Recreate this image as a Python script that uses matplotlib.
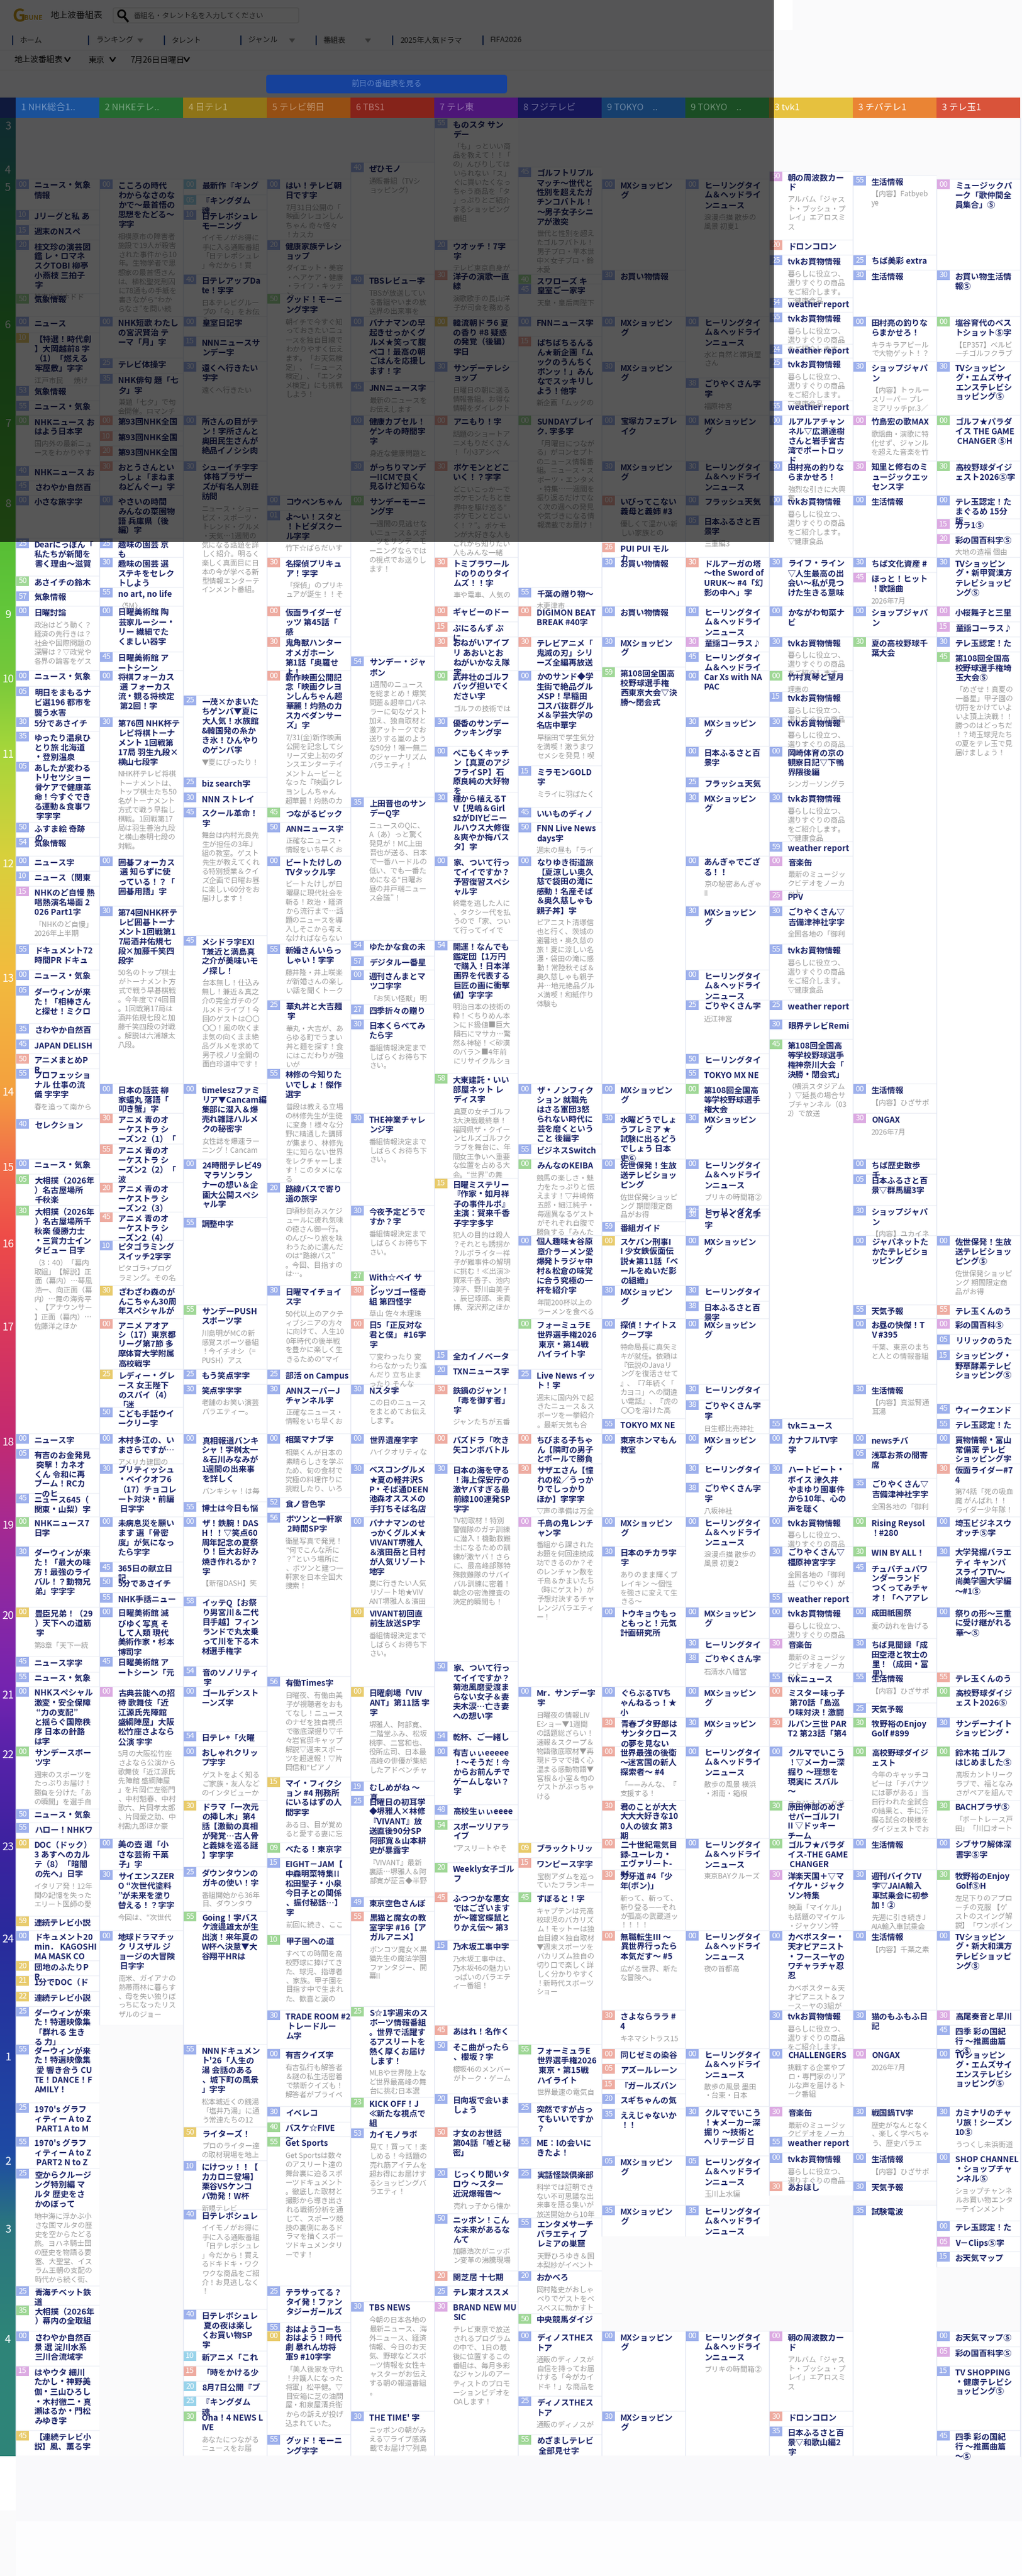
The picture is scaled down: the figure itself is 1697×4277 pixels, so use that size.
import matplotlib
matplotlib.use("Agg")
import matplotlib.pyplot as plt
from matplotlib.patches import Rectangle, FancyBboxPatch, Circle, Polygon
from matplotlib.colors import to_rgb
import numpy as np

plt.rcParams['font.family'] = ['Noto Sans CJK JP', 'DejaVu Sans']

W, H = 1697, 4277

# 番組表の時間軸 (hour -> {minute: row top})
ROW_TOPS = {
    3: {0: 196, 55: 196.5},
    4: {0: 269, 40: 270, 45: 277.5, 50: 284.5, 55: 291.5},
    5: {0: 298, 5: 324, 10: 349, 15: 374, 20: 399, 25: 424, 30: 449, 40: 456, 50: 488, 54: 495, 55: 519},
    6: {0: 526, 10: 553, 15: 558.5, 24: 572, 25: 595, 30: 601, 35: 621, 38: 628, 45: 634, 53: 641, 55: 666},
    7: {0: 690, 10: 716, 20: 741, 30: 766, 40: 773.5, 45: 798.5},
    8: {0: 823, 1: 847.5, 5: 856, 15: 862, 20: 886.5, 25: 894, 26: 901, 30: 925.5, 45: 951, 50: 957, 55: 975.5, 57: 982},
    9: {0: 1007, 15: 1033, 30: 1057.5, 45: 1082.5, 54: 1090, 59: 1108},
    10: {0: 1114, 5: 1140, 15: 1149, 25: 1155, 30: 1190.7, 35: 1215},
    11: {0: 1239.5, 5: 1265, 15: 1272, 25: 1290.6, 30: 1316, 45: 1340.5, 50: 1365.5, 54: 1391, 59: 1398},
    12: {0: 1421.5, 10: 1447, 15: 1472, 25: 1479, 30: 1504.7, 45: 1553.5, 54: 1561.5, 55: 1568, 57: 1588},
    13: {0: 1611, 5: 1636.7, 25: 1661, 27: 1668, 30: 1693, 35: 1700, 45: 1725.7, 50: 1750, 55: 1775, 58: 1783},
    14: {0: 1800, 30: 1849, 40: 1858, 55: 1900},
    15: {0: 1925, 5: 1950, 15: 1956.5, 20: 1964, 30: 2002, 38: 2008, 45: 2013, 55: 2022, 59: 2029},
    16: {0: 2052, 10: 2060, 27: 2111, 30: 2135, 38: 2161, 55: 2167},
    17: {0: 2190, 5: 2216, 15: 2242, 20: 2267, 25: 2273.6, 30: 2298.5, 38: 2325, 45: 2331, 50: 2337, 55: 2356},
    18: {0: 2381, 5: 2405.6, 30: 2430.5, 35: 2455, 38: 2462, 45: 2479.5, 52: 2487, 55: 2494, 56: 2512},
    19: {0: 2518.6, 30: 2568, 45: 2594, 50: 2619, 55: 2645, 58: 2651},
    20: {0: 2669, 30: 2721, 38: 2745, 45: 2751, 50: 2759, 54: 2767, 55: 2777, 56: 2784},
    21: {0: 2801, 25: 2828, 30: 2852, 54: 2875},
    22: {0: 2900, 15: 2951, 19: 2958, 25: 2982, 30: 2990, 48: 2997, 50: 3004, 54: 3022, 55: 3027},
    23: {0: 3053, 9: 3060, 15: 3085, 20: 3093, 25: 3100, 30: 3105, 45: 3142, 49: 3150, 55: 3174, 59: 3181.6},
    24: {0: 3206, 10: 3213, 15: 3222, 20: 3256, 21: 3281, 22: 3307, 25: 3331.5, 30: 3338, 45: 3363, 50: 3389, 55: 3395},
    25: {0: 3402, 5: 3427, 15: 3453, 20: 3477, 23: 3483, 25: 3491.6, 30: 3498, 35: 3502, 40: 3523.5, 50: 3532, 53: 3534, 55: 3548},
    26: {0: 3575, 5: 3580, 10: 3588, 20: 3600, 25: 3601, 30: 3622, 35: 3662, 40: 3669, 50: 3675.6, 55: 3683},
    27: {0: 3688, 5: 3714, 15: 3739, 20: 3771, 25: 3796, 30: 3821.5, 35: 3828, 40: 3835, 50: 3842},
    28: {0: 3871, 5: 3897, 10: 3903.5, 15: 3929, 20: 3954, 25: 3979, 30: 4004, 35: 4029, 45: 4036, 55: 4042.6},
    29: {0: 4078},
}

HOUR_LABELS = [3, 4, 5, 6, 7, 8, 9, 10, 11, 12, 13, 14, 15, 16, 17, 18, 19, 20, 21, 22, 23, 24, 1, 2, 3, 4]

CHANNELS = ["1 NHK総合1..", "2 NHKEテレ..", "4 日テレ1", "5 テレビ朝日", "6 TBS1", "7 テレ東",
            "8 フジテレビ", "9 TOKYO　..", "9 TOKYO　..", "3 tvk1", "3 チバテレ1", "3 テレ玉1"]

# time, genre, title, description
NHK = [
    ("5:00", "b", "ニュース・気象情報", ""),
    ("5:10", "b", "Jリーグと私 あ", ""),
    ("5:15", "b", "週末のNスペ", ""),
    ("5:20", "b", "桂文珍の演芸図鑑 レ・ロマネスクTOBI 柳亭小燕枝 三拍子字", "桂文珍がホドド"),
    ("5:50", "g", "気象情報", ""),
    ("6:00", "b", "ニュース", ""),
    ("6:10", "y", "【特選！時代劇】大岡越前8 字（1）「燃える牢屋敷」字字", "江戸市民 　 焼け"),
    ("6:53", "b", "気象情報", ""),
    ("6:55", "b", "ニュース・気象", ""),
    ("7:00", "g", "NHKニュース おはよう日本字", "国内外の最新ニュースをわかりやす"),
    ("7:40", "b", "NHKニュース お", ""),
    ("7:45", "b", "さわやか自然百", ""),
    ("8:00", "b", "小さな旅字字", ""),
    ("8:25", "b", "Dearにっぽん「私たちが新聞を書く理由～滋賀", ""),
    ("8:50", "g", "あさイチの鈴木", ""),
    ("8:57", "b", "気象情報", ""),
    ("9:00", "b", "日曜討論", "政治はどう動く？経済の先行きは？社会や国際問題の深層は？▽政党や各界の論客をゲス"),
    ("10:00", "b", "ニュース・気象", ""),
    ("10:05", "b", "明日をまもるナビ選196 都市を襲う水害", ""),
    ("10:30", "b", "5分であさイチ", ""),
    ("10:35", "b", "ゆったり温泉ひとり旅 北海道・登別温泉", ""),
    ("11:05", "b", "あしたが変わるトリセツショー骨ケアで健康革命！今すぐできる運動＆食事ワ 字字字", ""),
    ("11:50", "b", "ふすま絵 奇跡の", ""),
    ("11:54", "b", "気象情報", ""),
    ("12:00", "b", "ニュース字", ""),
    ("12:10", "b", "ニュース（関東", ""),
    ("12:15", "p", "NHKのど自慢 熱唱熱演名場面 2026 Part1字", "「NHKのど自慢」2026年上半期"),
    ("12:55", "b", "ドキュメント72時間PR ドキュ", ""),
    ("13:00", "b", "ニュース・気象", ""),
    ("13:05", "b", "ダーウィンが来た！「相棒さんと探せ！ミクロ", ""),
    ("13:35", "b", "さわやか自然百", ""),
    ("13:45", "b", "JAPAN DELISH", ""),
    ("13:50", "r", "アニメまとめPR", ""),
    ("13:55", "b", "プロフェッショナル 仕事の流儀 字字字", "春を追って南から"),
    ("14:40", "b", "セレクション", ""),
    ("15:00", "b", "ニュース・気象", ""),
    ("15:05", "g", "大相撲（2026年）名古屋場所 千秋楽", ""),
    ("15:30", "g", "大相撲（2026年）名古屋場所千秋楽 優勝力士・三賞力士インタビュー 日字",
     "（3：40）「幕内取組」【解説】正面（幕内）…琴風浩一、向正面（幕内）…舞の海秀平、【アナウンサー】正面（幕内）…佐藤洋之ほか"),
    ("18:00", "b", "ニュース字", ""),
    ("18:05", "b", "有吉のお金発見 突撃！カネオくん 令和に再ブーム！RCカーのヒ", ""),
    ("18:45", "b", "ニュース645（関東・山梨）字", ""),
    ("19:00", "g", "NHKニュース7 日字", ""),
    ("19:30", "b", "ダーウィンが来た！「最大の味方！最強のライバル！？動物兄弟」字字字", ""),
    ("20:00", "y", "豊臣兄弟！（29）天下への道筋 字", "第8章「天下一統"),
    ("20:45", "b", "ニュース字字", ""),
    ("20:55", "b", "ニュース・気象", ""),
    ("21:00", "b", "NHKスペシャル 激変・安全保障 “力の支配”と揺らぐ国際秩序 日本の針路は字", ""),
    ("22:00", "g", "サンデースポーツ字", "週末のスポーツをたっぷりお届け！勝負を分けた「あの瞬間」を選手自"),
    ("22:50", "b", "ニュース・気象", ""),
    ("22:55", "b", "ハロー！NHKワ", ""),
    ("23:00", "y", "DOC（ドック）3 あすへのカルテ（8）「暗闇の先へ」日字", "イタリア発！12年間の記憶を失ったエリート医師の愛"),
    ("23:59", "y", "連続テレビ小説", ""),
    ("24:00", "b", "ドキュメント20min． KAGOSHIMA MASK CO", ""),
    ("24:20", "y", "団地のふたりPR", ""),
    ("24:21", "y", "1分でDOC（ド", ""),
    ("24:22", "y", "連続テレビ小説", ""),
    ("24:25", "b", "ダーウィンが来た！特選映像集「群れる 生きる 力」", ""),
    ("24:55", "b", "ダーウィンが来た！特選映像集 愛 響き合う CUTE！DANCE！FAMILY！", ""),
    ("25:25", "b", "1970's グラフィティー A to Z PART1 A to M", ""),
    ("25:55", "b", "1970's グラフィティー A to Z PART2 N to Z", ""),
    ("26:25", "b", "空からクルージング特別編 マルタ 歴史をさかのぼって",
     "地中海に浮かぶ小さな国マルタの歴史を空からたどる旅。ヨハネ騎士団の歴史を物語る要塞、大聖堂、イスラム王朝の支配の時代から続く街、"),
    ("27:25", "b", "青海チベット鉄道", ""),
    ("27:35", "g", "大相撲（2026年）幕内の全取組", ""),
    ("28:00", "b", "さわやか自然百景 選 淀川水系 三川合流域字", ""),
    ("28:15", "p", "はやウタ 細川たかし・神野美伽・三山ひろし・木村徹二・真瀬はるか・門松みゆき字", ""),
    ("28:45", "y", "【連続テレビ小説】風、薫る字", ""),
]

ETV = [
    ("5:00", "b", "こころの時代 わからなさのなかで～最首悟の思想をたどる～字字",
     "相模原市の障害者施設で19人が殺害された事件から10年。生物学者で思想家の最首悟さんは、植松聖死刑囚に78通もの手紙を書きながら“わからなさ”を問い続"),
    ("6:00", "b", "NHK短歌 わたしの宮沢賢治 テーマ「月」字", ""),
    ("6:25", "b", "テレビ体操字", ""),
    ("6:35", "b", "NHK俳句 題「七夕」字", "兼題「七夕」で句会開催。ロマンチ"),
    ("7:00", "r", "第93回NHK全国", ""),
    ("7:10", "r", "第93回NHK全国", ""),
    ("7:20", "r", "第93回NHK全国", ""),
    ("7:30", "r", "おとうさんといっしょ「まねまねどんぐー」字", ""),
    ("8:00", "b", "やさいの時間 みんなの菜園物語 兵庫県（後編）字", ""),
    ("8:25", "b", "趣味の園芸 京も", "一期栽培は今"),
    ("8:30", "b", "趣味の園芸 選 ステキをセレクトしよう", ""),
    ("8:55", "b", "no art, no life", "〈5M〉"),
    ("9:00", "b", "日曜美術館 陶芸家ルーシー・リー 繊細でたくましい器字", ""),
    ("9:45", "b", "日曜美術館 アートシーン", ""),
    ("10:00", "b", "将棋フォーカス 選 フォーカス流・観る将検定 第2回！字", ""),
    ("10:30", "b", "第76回 NHK杯テレビ将棋トーナメント 1回戦第17局 羽生九段×横山七段字",
     "NHK杯テレビ将棋トーナメントは、トップ棋士たち50名がトーナメント方式で戦う早指し棋戦。1回戦第17局は羽生善治九段と横山泰明七段の対戦。"),
    ("12:00", "b", "囲碁フォーカス 選 知らずに使っている！？「囲碁用語」字", ""),
    ("12:30", "b", "第74回NHK杯テレビ囲碁トーナメント1回戦第17局酒井佑規七段×加藤千笑四段字",
     "50名のトップ棋士がトーナメント方式で戦う早碁棋戦。今年度で74回目。1回戦第17局は酒井佑規七段と加藤千笑四段の対戦。解説は六浦雄太八段。"),
    ("14:00", "b", "日本の話芸 柳家蝠丸 落語「叩き蟹」字", ""),
    ("14:30", "r", "アニメ 青のオーケストラ シーズン2（1）「", ""),
    ("14:55", "r", "アニメ 青のオーケストラ シーズン2（2）「波", ""),
    ("15:20", "r", "アニメ 青のオーケストラ シーズン2（3）", ""),
    ("15:45", "r", "アニメ 青のオーケストラ シーズン2（4）", ""),
    ("16:10", "b", "ピタゴラミングスイッチ2字字", "ピタゴラ+プログラミング。その名"),
    ("16:30", "y", "ざわざわ森のがんこちゃん30周年スペシャルが", ""),
    ("17:00", "r", "アニメ アオアシ（17）東京都リーグ第7節 多摩体育大学附属高校戦字", ""),
    ("17:25", "y", "レディー・グレース 女王陛下のスパイ（4）「迷", ""),
    ("17:50", "b", "こども手話ウイークリー字", ""),
    ("18:00", "b", "木村多江の、いまさらですが…", "アメリカ建国の"),
    ("18:30", "b", "ブリティッシュ・ベイクオフ6（17）チョコレート対決・前編 日字字", ""),
    ("19:00", "b", "未病息災を願います 選「骨密度」が気になったら字字", ""),
    ("19:45", "b", "365日の献立日記", ""),
    ("19:50", "b", "5分であさイチ", ""),
    ("19:55", "b", "NHK手話ニュー", ""),
    ("20:00", "b", "日曜美術館 滅びゆく写真 そして人類 現代美術作家・杉本博司字", ""),
    ("20:45", "b", "日曜美術館 アートシーン「元", ""),
    ("21:00", "p", "古典芸能への招待 歌舞伎「近江源氏先陣館 盛綱陣屋」大阪松竹座さよなら公演 字字",
     "5月の大阪松竹座さよなら公演から歌舞伎「近江源氏先陣館 盛綱陣屋」を片岡仁左衛門、中村魁春、中村歌六、片岡孝太郎、片岡愛之助、中村勘九郎ほか豪"),
    ("23:00", "b", "美の壺 選「小さな芸術 干菓子」字", ""),
    ("23:30", "b", "サイエンスZERO “次世代塗料”が未来を塗り替える！？字字", "今回は、“次世代"),
    ("24:00", "b", "地球ドラマチック リスザル ジョージの大冒険 日字字",
     "南米、ガイアナの熱帯雨林に暮らす、母を失い独りぼっちになったリスザルのジョー"),
    ("24:45", None, "", ""),
]

NTV = [
    ("5:00", "c", "最新作『キング", ""),
    ("5:05", "c", "『キングダム 魂", ""),
    ("5:10", "b", "日テレポシュレモーニング", "イイモノがお得に手に入る通販番組「日テレポシュレ」今だから！買"),
    ("5:40", "b", "日テレアップDate！字字", "日本テレビグループの「今」をお伝え"),
    ("6:00", "b", "皇室日記字", ""),
    ("6:15", "b", "NNNニュースサンデー字", ""),
    ("6:30", "b", "遠くへ行きたい字字", "遠くへ行きたい"),
    ("7:00", "b", "所さんの目がテン！字所さんと奥田民生さんが絶品イノシシ肉", ""),
    ("7:30", "b", "シューイチ字字 体格ブラザーズが有名人別荘訪問",
     "ニュース・ショービズ・スポーツ・トレンド・グルメ・天気…1週間の気になる話題を詳しく紹介。明るく楽しく真面目に日本の今が学べる新型情報エンターテインメント番組。"),
    ("10:25", "b", "一茂×かまいたちゲンバ▼夏に大人気！水族館&韓国発の糸かき氷！ひんやりのゲンバ字", "▼夏にぴったり！"),
    ("11:25", "b", "biz search字", ""),
    ("11:30", "b", "NNN ストレイ", ""),
    ("11:45", "b", "スクール革命！字", "舞台は内村光良先生が担任の3年J組の教室。ゲスト先生が教えてくれる特別授業＆クイズ企画で日曜お昼に楽しい60分をお届けします！"),
    ("12:45", "b", "メシドラ字EXIT兼近と満島真之介が美味いモノ探し！",
     "台本無し！仕込み無し！兼近＆真之介の完全ガチのグルメドライブ！今回のゲストは〇〇〇〇！風の吹くまま気の向くまま絶品グルメを求めて男子校ノリ全開の面白珍道中です！"),
    ("14:00", "b", "timeleszファミリア▼Cancam編集部に潜入＆爆売れ雑誌ハルメクの秘密字", "女性誌を爆速ラーニング！Cancam"),
    ("15:00", "b", "24時間テレビ49 マラソンランナーの想い＆企画大公開スペシャル字", ""),
    ("15:55", "b", "調整中字", ""),
    ("16:55", "g", "サンデーPUSHスポーツ字", "川島明がMCの新感覚スポーツ番組！今イチオシ（=PUSH）アス"),
    ("17:25", "b", "もう笑点字字", ""),
    ("17:30", "b", "笑点字字字", "老舗のお笑い演芸バラエティー。"),
    ("18:00", "b", "真相報道バンキシャ！字桝太一＆石川みなみが1週間の出来事を詳しく", "バンキシャ！は毎"),
    ("18:55", "b", "博士は今日も悩", ""),
    ("19:00", "b", "ザ！鉄腕！DASH！！▽笑点60周年記念の夏祭り！巨大お好み焼き作れるか？字", "【新宿DASH】笑"),
    ("19:58", "b", "イッテQ【お祭り男宮川＆二代目手越】フィンランドで丸太乗って川を下る木材選手権字", ""),
    ("20:54", "b", "音のソノリティ 字", ""),
    ("21:00", "b", "ゴールデンストーンズ字", ""),
    ("21:54", "b", "日テレ+「火曜", ""),
    ("22:00", "b", "おしゃれクリップ字字", "ゲストをよく知るご家族・友人などのインタビューか"),
    ("22:30", "y", "ドラマ「一次元の挿し木」第4話【激動の真相が発覚…古人骨と義妹を巡る謎】字字字", ""),
    ("23:25", "b", "ダウンタウンのガキの使い！字", "番組開始から36年目、ダウンタウ"),
    ("23:55", "g", "Going！字バスケ渡邊雄太が生出演！来年夏のW杯へ決意▼大谷翔平HRは", ""),
    ("24:55", "b", "NNNドキュメント'26「人生の湯 会話のある、城下町の風景」字字", "松本城近くの銭湯「塩井乃湯」に通う常連たちの12"),
    ("25:50", "y", "ライターズ！", "プロのライター達の取材現場を地上"),
    ("26:10", "b", "にけつッ！！【カカロニ登場】栗谷VSケンコバ勃発！W杯", "新規テレビ"),
    ("26:40", "b", "日テレポシュレ", "イイモノがお得に手に入る通販番組「日テレポシュレ」今だから！買えるドキドキ・ワクワクな商品をご紹介！お見逃しなく！"),
    ("27:40", "b", "日テレポシュレ 夏の夜は楽しくお買い物SP字", ""),
    ("28:10", "c", "新アニメ「これ", ""),
    ("28:15", "r", "「時をかける少", ""),
    ("28:20", "c", "8月7日公開『ブ", ""),
    ("28:25", "c", "『キングダム 魂", ""),
    ("28:30", "g", "Oha！4 NEWS LIVE", "あなたにつながるニュースをお届"),
]

EX = [
    ("5:00", "b", "はい！テレビ朝日です字", "7月31日公開の「映画クレヨンしんちゃん 奇々怪々！カスカ"),
    ("5:20", "b", "健康家族テレショップ", "ダイエット・美容・ヘアケア・健康・ライフ・キッチン"),
    ("5:50", "g", "グッド！モーニング字字", "朝イチで今すぐ知っておきたいニュースを独自目線でわかりやすく伝えます。「お天気検定」、「ニュース検定」、「エンタメ検定」にも挑戦しよう！"),
    ("8:00", "b", "コウペンちゃん", ""),
    ("8:01", "b", "よ～い！スタと！トビダスクール字字", "竹下☆ぱらだいす"),
    ("8:30", "r", "名探偵プリキュア！字字", "「探偵」のプリキュアが誕生！！そ"),
    ("9:00", "r", "仮面ライダーゼッツ 第45話「感", ""),
    ("9:30", "r", "鬼角獣ハンターオメガホーン 第1話「奥羅せよ！", ""),
    ("10:00", "r", "新作映画公開記念「映画クレヨンしんちゃん超華麗！灼熱のカスカベダンサーズ」字",
     "7/31(金)新作映画公開を記念してシリーズ史上初のダンスエンターテイメントムービーとなった『映画クレヨンしんちゃん 超華麗！灼熱のカ"),
    ("11:45", "g", "つながるピック", ""),
    ("11:50", "b", "ANNニュース字", "正確なニュース・情報をいち早くお"),
    ("12:00", "b", "ビートたけしのTVタックル字", "ビートたけしが日曜昼に現代社会を斬る！政治・経済から流行まで…話題のニュースを導入しそこから考えなければならない"),
    ("12:55", "b", "新婚さんいらっしゃい！字字", "藤井隆・井上咲楽が新婚さんの楽しい話を聞くトーク"),
    ("13:25", "b", "華丸丼と大吉麺 字", "華丸・大吉が、あらゆる町でうまい丼と麺を探す！食にはこだわりが強いが"),
    ("13:55", "b", "林修の今知りたいでしょ！傑作選字", "普段は教える立場の林修先生が生徒に変身！様々な分野に精通した講師が集まり、林修先生に知らない世界をレクチャーします！このタメになる"),
    ("15:20", "b", "路線バスで寄り道の旅字", "日頃秒刻みスケジュールに疲れ気味の徳さん御一行。のんび～り旅を味わうために選んだのは“路線バス”。今回、目指すのは…。"),
    ("16:30", "b", "日曜マイチョイス字", "50代以上のアクティブシニアの方々に向けて、人生100年時代の後半戦を豊かに楽しく生きるための“マイ"),
    ("17:25", "b", "部活 on Campus", ""),
    ("17:30", "b", "ANNスーパーJチャンネル字", "正確なニュース・情報をいち早くお"),
    ("18:00", "b", "相葉マナブ字", "相葉くんが日本の素晴らしさを学ぶため、旬の食材で究極の料理作りに挑戦したり、いろ"),
    ("18:52", "b", "食ノ音色字", ""),
    ("18:56", "b", "ポツンと一軒家 2時間SP字", "衛星写真で発見！“何でこんな所に？”という場所に、ポツンと建つ一軒家を日本全国大捜索！"),
    ("20:56", "b", "有働Times字", "日曜夜、有働由美子が視聴者をおもてなし！ニュースのナゼを独自視点で徹底深掘り▽千々岩官邸キャップ解説▽週末スポーツを超速報！▽片岡信和“ピアノ"),
    ("22:15", "y", "マイ・フィクション #4 刑務所にいるはずの人間字字", "ある日、目が覚めると愛する妻に忘"),
    ("23:09", "g", "べたる！東京字", ""),
    ("23:15", "b", "EIGHT－JAM【中森明菜特集!!松田聖子・小泉今日子との関係、振付秘話…】字", "前回に続き、ここ"),
    ("24:10", "g", "甲子園への道", "すべての時間を高校野球に捧げてきた、球児、指導者、家族。甲子園を目指す中で生まれた、歓喜と涙の"),
    ("24:30", "b", "TRADE ROOM #2 トレードルーム字", ""),
    ("25:00", "b", "有吉クイズ字", "有吉弘行も解答者＆謎の私生活密着で禁断クイズも！解答者がプライベ"),
    ("25:30", "b", "イベレコ", ""),
    ("25:40", "g", "バスケ☆FIVE～", ""),
    ("25:55", "g", "Get Sports", "Get Sportsは数々のアスリート達の舞台裏に迫るスポーツドキュメント。徹底した取材と撮影から導き出される戦術分析を通じて、スポーツ競技の裏側にあるドラマを描くスポーツドキュメンタリーです！"),
    ("27:25", "b", "テラサってる？タイ発！ファンタジーガールズ", ""),
    ("27:55", "b", "おはようコーち", ""),
    ("28:00", "y", "おはよう！時代劇 暴れん坊将軍9 #10字字", "「美人後家を守れ！弁護人になった将軍」松平健。▽目安箱に芝の油問屋・和泉屋清兵衛からの訴えが投げ込まれていた。"),
    ("28:55", "b", "グッド！モーニング字字", ""),
]

TBS = [
    ("4:40", "b", "ぜひモノ", "通販番組（TVショッピング）"),
    ("5:40", "b", "TBSレビュー字", "TBSが放送している番組やいまの放送界の出来事を"),
    ("6:00", "b", "バナナマンの早起きせっかくグルメ★笑って腹ペコ！最高の朝ごはんを応援します！字", ""),
    ("6:45", "b", "JNNニュース字", "最新のニュースをお伝えします"),
    ("7:00", "b", "健康カプセル！ゲンキの時間字字", "身近な健康問題と"),
    ("7:30", "b", "がっちりマンデー!!CMで良く見るけど知らな", ""),
    ("8:00", "g", "サンデーモーニング字", "一週間の見逃せないニュース＆スポーツをサンデーモーニングならではの視点でお送りします！"),
    ("9:54", "b", "サンデー・ジャポン", "1週間のニュースを総まとめ！爆笑問題＆超辛口パネラーに旬なゲスト加え、独自取材と激アットークでお送りする嵐のような90分！唯一無二のジャーナリズムバラエティ！"),
    ("11:35", "b", "上田晋也のサンデーQ字", "ニュースのQに、A（あ）っと驚く発見が！MC上田晋也が送る、日本で一番ハードルの低い、でも一番ためになる“日曜お昼の井戸端ニュース会議”！"),
    ("12:54", "b", "ゆたかな食の未", ""),
    ("12:57", "b", "デジタル一番星", ""),
    ("13:00", "b", "週刊さんまとマツコ字字", "「お笑い怪獣」明"),
    ("13:27", "b", "四季折々の贈り", ""),
    ("13:30", "b", "日本くらべてみたら字", "番組情報決定までしばらくお待ち下さい。"),
    ("14:30", "b", "THE神業チャレンジ字", "番組情報決定までしばらくお待ち下さい。"),
    ("15:30", "b", "今夜予定どうですか？字", "番組情報決定までしばらくお待ち下さい。"),
    ("16:27", "g", "With☆ベイ サン", ""),
    ("16:30", "r", "レッツゴー怪奇組 第四怪字", "草山 佐々木理珠"),
    ("17:00", "r", "日5「正反対な君と僕」 #16字字", "▽変わったり 変わらなかったり進んだり 立ち止まったり そんな"),
    ("17:30", "b", "Nスタ字", "この日のニュースをまとめてお伝えします。"),
    ("18:00", "b", "世界遺産字字", "ハイクオリティな"),
    ("18:30", "b", "ベスコングルメ★夏の軽井沢SP・そば通DEEN池森オススメの手打ちそば名店", ""),
    ("19:00", "b", "バナナマンのせっかくグルメ★VIVANT堺雅人＆濱田岳と日村が人気リゾート地字", "夏に行きたい人気リゾート地★VIVANT堺雅人＆濱田"),
    ("20:00", "y", "VIVANT初回直前生放送SP字", "番組情報決定までしばらくお待ち下さい。"),
    ("21:00", "y", "日曜劇場「VIVANT」第11話 字字", "堺雅人、阿部寛、二階堂ふみ、松坂桃李、二宮和也、役所広司、日本最高峰の俳優が集結したアドベンチャ"),
    ("22:19", "b", "むしめがね ～真", ""),
    ("22:25", "b", "日曜日の初耳学◆堺雅人×林修『VIVANT』放送直後90分SP阿部寛＆山本耕史が暴露字", "『VIVANT』最新裏話…堺雅人＆阿部寛が証言◆半野"),
    ("23:49", "b", "東京空色さんぽ", ""),
    ("23:55", "r", "黒猫と魔女の教室字字 #16【アガルアニメ】", "ポンコツ魔女×黒猫先生の魔法学園ファンタジー、開幕!!"),
    ("24:25", "g", "S☆1字週末のスポーツ情報番組。世界で活躍するアスリートを熱く厚くお届けします！", "MLBや世界陸上など世界最高峰の舞台に挑む日本選"),
    ("25:23", "g", "KICK OFF！J ≪新たな視点で組", ""),
    ("25:53", "b", "カイモノラボ", "見て！買って！楽しめる！今話題の売れ筋アイテムを超お得にお届けするショッピングバラエティ！"),
    ("27:30", "b", "TBS NEWS", "今朝の日本各地の最新ニュース、海外ニュース、経済情報、今日のお天気、野球などスポーツ情報を女性キャスターがお伝えする朝の報道番組。"),
    ("28:30", "b", "THE TIME' 字", "ニッポンの朝がみえる▽ライブ感満載でお届け▽列島"),
]

TX = [
    ("3:55", "b", "ものスタ サンデー", "「も」っといい商品を教えて！！「の」んびりしてはいられない「ス」ぐに買いたくなっちゃう商品を「タ」っぷりとご紹介するショッピング番組"),
    ("5:20", "b", "ウオッチ！7字字", "テレビ東京自身が"),
    ("5:30", "r", "洋子の演歌一直線", "演歌歌手の長山洋子が司会を務める"),
    ("6:00", "y", "韓流朝ドラ6 夏の香り #8 疑惑の発覚（後編）字日", ""),
    ("6:30", "b", "サンデーテレショップ", "日曜日の朝に送る情報番組。お得な情報をダイレクト"),
    ("7:00", "r", "アニもり！字", "話題のショートアニメもりだくさん！「小3アシベ"),
    ("7:30", "r", "ポケモンとどこいく！？字字", "どこいこっかーでポケモンたちと世界中を駆け巡る“ポケモンとどこいく！？”。ポケモンが大好きな人もこれから知りたい人もみんな一緒"),
    ("8:30", "r", "トミプラワールドのりのりタイムズ！！字", "車や電車、人気の"),
    ("9:00", "r", "ギャビーのドー", ""),
    ("9:15", "r", "ぷにるんず ぷに", ""),
    ("9:30", "r", "おねがいアイプリ あおいとおねがいかなえ隊字", ""),
    ("10:00", "g", "武井壮のゴルフバッグ担いでください字", "ゴルフの技術では"),
    ("10:30", "b", "優香のサンデークッキング字", ""),
    ("11:00", "b", "ぺこもくキッチン【真夏のアジフライSP】石原良純の大好物を", ""),
    ("11:30", "b", "種から植えるTV【児嶋＆Girls2がDIYビニールハウス大修復＆爽やか梅パスタ】字", ""),
    ("12:00", "b", "家、ついて行ってイイですか？予習復習スペシャル字", "終電を逃した人に、タクシー代を払うので「家、ついて行ってイイで"),
    ("12:54", "b", "開運！なんでも鑑定団【1万円で購入！日本洋画界を代表する巨匠の画に衝撃値】字字字", "明治日本の技術の粋！＜ちりめん本＞にド級値■巨大隕石にマサカ…驚然＆神秘！＜砂漠のバラ＞■4年前にリサイクルショ"),
    ("13:58", "g", "大東建託・いい部屋ネット レディス字", "真夏の女子ゴルフ3大決戦最終章！福岡県ザ・クイーンヒルズゴルフクラブを舞台に、年間女王争いへ重要な位置を占める大会。“世界”の舞"),
    ("15:15", "y", "日曜ミステリー『作家・如月祥子の事件ルポ』主演：賀来千香子字字多字", "犯人の目的は殺人？それとも誘拐か？ルポライター祥子が難事件の解明に挑む！≪出演≫賀来千香子、池内淳子、野川由美子、辰巳琢郎、東貴博、深沢邦之ほか"),
    ("17:15", "b", "全カイノベータ", ""),
    ("17:20", "b", "TXNニュース字", ""),
    ("17:30", "r", "鉄鍋のジャン！「毒を御す者」字", "ジャンたちが五番"),
    ("18:00", "r", "バズドラ「吹き矢コンボバトル", ""),
    ("18:30", "b", "日本の海を守る！海上保安庁の激ヤバすぎる最前線100連発SP字字", "TV初取材！特別警備隊のガチ訓練に潜入！機動救難士になるための訓練が激ヤバ！さらに、最高峰部隊特殊救難隊のサバイバル訓練に密着！執念の密漁捜査の決定的瞬間も！"),
    ("20:50", "b", "家、ついて行ってイイですか？菊池風磨愛渡まらない女子＆妻夫木涙…亡き妻への想い字", ""),
    ("21:54", "b", "乾杯、ご一緒し", ""),
    ("22:00", "b", "有吉ぃぃeeeee！～そうだ！今からお前んチでゲームしない？字", ""),
    ("22:48", "b", "高校生ぃぃeeee", ""),
    ("22:54", "g", "スポーツリアライブ", "“アスリートやそ"),
    ("23:20", "g", "Weekly女子ゴルフ", ""),
    ("23:45", "r", "ふつつかな悪女ではございますが～雛宮蝶鼠とりかえ伝～ 第3", ""),
    ("24:15", "b", "乃木坂工事中字", "乃木坂工事中は、乃木坂46の魅力いっぱいのバラエティー番組！"),
    ("24:45", "r", "あはれ！名作く", ""),
    ("24:50", "b", "そこ曲がったら、櫻坂？字", "櫻坂46のメンバーがトーク・ゲーム"),
    ("25:20", "b", "日向坂で会いましょう", ""),
    ("25:50", "r", "才女のお世話 第04話「嘘と秘密」", ""),
    ("26:20", "b", "じっくり聞いタロウ ～スター近況爆報告～", "売れっ子から懐か"),
    ("26:50", "b", "ニッポン！こんな未来があるなんて", "加藤浩次がニッポン変革の沸騰現場"),
    ("27:20", "r", "関芝居 十七期", ""),
    ("27:25", "b", "テレ東オススメ", ""),
    ("27:30", "p", "BRAND NEW MUSIC", "テレビ東京で放送されるプログラムの中で、1日の最後に位置するこの番組は、毎月多彩なジャンルのアーティストのプロモーションビデオをOAします！"),
]

CX = [
    ("4:45", "b", "ゴルフトリプルマッチ～世代と性別を超えたガチンコバトル！～男子女子シニアが激突", "世代と性別を超えたゴルフバトル！男子プロ・平本世中×女子プロ・鈴木愛"),
    ("5:40", "g", "スワローズ キッ", ""),
    ("5:45", "b", "皇室ご一家字", "天皇・皇后両陛下"),
    ("6:00", "b", "FNNニュース字", ""),
    ("6:15", "r", "ぱちぱちるんるん★新企画「ムックのうんちくポンッ！」みんなでスッキリしよう！他字", "新企画「ムックの"),
    ("7:00", "g", "SUNDAYブレイク. 字多字", "「月曜日につながる」がコンセプトのニュース情報番組。ニュース・スポーツ・エンタメ・特集…一週間を振り返るだけでなく次の週への発見や気づきになる情報満載でお届け！"),
    ("8:55", "b", "千葉の贈り物～", "木更津市"),
    ("9:00", "r", "DIGIMON BEATBREAK #40字", ""),
    ("9:30", "r", "テレビアニメ「鬼滅の刃」シリーズ全編再放送", ""),
    ("10:00", "b", "かのサンド◆学生街で絶品グルメSP！早稲田コスパ抜群グルメ＆学芸大学の名店中華字", "早稲田で学生気分を満喫！激うまワセメシを発見！喫"),
    ("11:15", "b", "ミラモンGOLD字", "ミライに羽ばたく"),
    ("11:45", "b", "いいものディノ", ""),
    ("11:50", "b", "FNN Live News days字", "週末の昼も「ライ"),
    ("12:00", "b", "なりゆき街道旅【夏涼しい奥久慈で袋田の滝に感動！名産そば＆奥久慈しゃも親子丼】字", "ピアニスト清塚信也と行く、茨城の避暑地・奥久慈の旅！夏に涼しい名瀑・袋田の滝に感動！常陸秋そば＆奥久慈しゃも親子丼…地元絶品グルメ満喫！和紙作り体験も"),
    ("14:00", "b", "ザ・ノンフィクション 就職先はさる軍団3怒られない時代に芸を磨くということ 後編字", ""),
    ("14:55", "b", "ビジネスSwitch", ""),
    ("15:00", "g", "みんなのKEIBA", "競馬の楽しさ・魅力をたっぷりと伝えます！▽井崎脩五郎・細江純子・毎週異なるゲストがそれぞれ自腹で勝負する「みんた"),
    ("16:00", "b", "個人趣味★谷原章介ラーメン愛爆発トラジャ中村＆松倉の味覚に合う究極の一杯を紹介字", "年間200杯以上のラーメンを食べる"),
    ("17:00", "g", "フォーミュラE 世界選手権2026 東京・第14戦ハイライト字", ""),
    ("17:25", "b", "Live News イット！字", "週末に国内外で起きたニュース＆スポーツを一挙紹介。最新天気も合"),
    ("18:00", "r", "ちびまる子ちゃん【隣町の男子とボールで勝負", ""),
    ("18:30", "r", "サザエさん【憧れの松／うっかりでしっかり ほか】字字字", "▽声の準備は万全"),
    ("19:00", "p", "千鳥の鬼レンチャン字", "番組から課されたお題を何回連続成功できるのか？そのレンチャン数を千鳥＆かまいたち（時にゲスト）が予想対決するチャレンジバラエティー！"),
    ("21:00", "b", "Mr．サンデー字字", "日曜夜の情報LIVEショー▼1週間の話題総ざらい！速報＆スクープ＆物語徹底取材▼再現ドラマで描く心温まる感動物語▼宮根＆小室＆旬のゲストがぶっちゃける"),
    ("23:09", "y", "ブラックトリッ", ""),
    ("23:15", "r", "ワンピース字字", "宝樹アダムを巡っていたフランキー"),
    ("23:45", "g", "すぽると！字", "キャプテンは元高校球児のバカリズム！モットーは独自目線×独自取材▼週末スポーツをバカリズム独自の切り口で楽しく詳しく分かりやすく！新時代スポーツショー"),
    ("24:55", "g", "フォーミュラE 世界選手権2026 東京・第15戦ハイライト", "世界最速の電気自"),
    ("25:25", "b", "突然ですが占ってもいいですか？", ""),
    ("25:55", "b", "ME：Iの会いにきたよ！", ""),
    ("26:25", "b", "実話怪談倶楽部", "科学では証明できない不可思議な出来事を語る集いが放送開始から10年"),
    ("26:55", "b", "エンタメサーチバラエティ プレミアの巣窟", "天野ひろゆき＆国本梨紗がイベント"),
    ("27:20", "b", "おかべろ", "岡村隆史がおしゃべりでゲストをベスベスに勃かすト"),
    ("27:50", "g", "中央競馬ダイジ", ""),
    ("28:00", "b", "ディノスTHEストア", "通販のディノスが自信を持ってお届けする「今がカイドキ！」な商品を"),
    ("28:25", "b", "ディノスTHEストア", "通販のディノスが"),
    ("28:55", "g", "めざましテレビ 全部見せ字", ""),
]

MX1 = [
    ("5:00", "b", "MXショッピング", ""),
    ("5:30", "b", "お買い物情報", ""),
    ("6:00", "b", "MXショッピング", ""),
    ("6:30", "b", "MXショッピング", ""),
    ("7:00", "b", "宝塚カフェブレイク", ""),
    ("7:30", "b", "MXショッピング", ""),
    ("8:00", "r", "いびってこない義母と義姉 #3", "優しくて温かい新しい家族との"),
    ("8:26", "r", "PUI PUI モルカ", ""),
    ("8:30", "b", "お買い物情報", ""),
    ("9:00", "b", "お買い物情報", ""),
    ("9:30", "b", "MXショッピング", ""),
    ("9:59", "g", "第108回全国高校野球選手権 西東京大会▽決勝～閉会式", ""),
    ("14:00", "b", "MXショッピング", ""),
    ("14:30", "b", "水曜どうでしょうプレミア ★試験に出るどうでしょう 日本史⑥", ""),
    ("15:00", "b", "佐世保発！生放送テレビショッピング", "佐世保発ショッピング 期間限定商品がお得"),
    ("15:59", "b", "番組ガイド", ""),
    ("16:00", "y", "スケバン刑事II 少女鉄仮面伝説★第11話「ベールをぬいだ影の組織」", ""),
    ("16:30", "b", "MXショッピング", ""),
    ("17:00", "b", "探偵！ナイトスクープ字", "特命局長に真矢ミキが就任。依頼は『伝説のJavaリングを復活させて』、『7年続く「カヨコ」への間違い電話』、『虎の〇〇を溶けた高"),
    ("17:55", "b", "TOKYO MX NE", ""),
    ("18:00", "b", "東京ホンマもん教室", ""),
    ("19:00", "b", "MXショッピング", ""),
    ("19:30", "b", "日本のチカラ字字", "ありのまま輝くブレイキン ～個性を強さに変えて生きる～"),
    ("20:00", "b", "トウキョウもっともっと！元気計画研究所", ""),
    ("21:00", "b", "ぐらぶるTVちゃんねるっ！★小", ""),
    ("21:30", "r", "青春ブタ野郎はサンタクロースの夢を見ない", ""),
    ("22:00", "r", "世界最強の後衛～迷宮国の新人探索者～ #4", "「——みんな、『支援する！"),
    ("22:30", "r", "君のことが大大大大大好きな100人の彼女 第3期", ""),
    ("23:00", "r", "二十世紀電気目録-ユーレカ・エヴァリート- #4", ""),
    ("23:30", "r", "刃牙道 #4「少年(ボン)」", "斬って、斬って、斬り登る——それが孤高の武蔵道ッ！！！！"),
    ("24:00", "r", "無職転生III ～異世界行ったら本気だす～ #5", "広がる世界、新たな冒険へ。"),
    ("24:30", "r", "さよならララ #4", "キネマシトラス15"),
    ("25:00", "r", "同じゼミの染谷", ""),
    ("25:05", "r", "アズールレーン", ""),
    ("25:15", "r", "『ガールズバン", ""),
    ("25:20", "b", "スギちゃんの気", ""),
    ("25:35", "b", "ええじゃないか！！", ""),
    ("26:05", "b", "MXショッピング", ""),
    ("26:35", "b", "MXショッピング", ""),
    ("27:05", None, "", ""),
    ("28:00", "b", "MXショッピング", ""),
    ("28:30", "b", "MXショッピング", ""),
]

HEAL = "ヒーリングタイム＆ヘッドラインニュース"
MX2 = [
    ("5:00", "b", HEAL, "浪漫点描 散歩の風景 初夏1"),
    ("6:00", "b", HEAL, "水と自然と雑貨屋さん"),
    ("6:38", "b", "ごりやくさん字字", "福原神宮"),
    ("7:00", "b", "MXショッピング", ""),
    ("7:30", "b", HEAL, ""),
    ("8:00", "b", "フラッシュ天気", ""),
    ("8:05", "b", "日本ふるさと百景字", "三重編3"),
    ("8:30", "r", "ドルアーガの塔～the Sword of URUK～ #4「幻影の中へ」字", ""),
    ("9:00", "b", HEAL, ""),
    ("9:30", "p", "童謡コーラス♪", ""),
    ("9:45", "b", HEAL, ""),
    ("10:00", "b", "Car Xs with NAPAC", ""),
    ("10:30", "b", "MXショッピング", ""),
    ("11:00", "b", "日本ふるさと百景字", ""),
    ("11:25", "b", "フラッシュ天気", ""),
    ("11:30", "b", "MXショッピング", ""),
    ("12:00", "b", "あんぎゃでござる！！", "京の秘密あんぎゃ!!"),
    ("12:30", "b", "MXショッピング", ""),
    ("13:00", "b", HEAL, ""),
    ("13:25", "b", "ごりやくさん字", "近江神宮"),
    ("13:50", "b", "ヒーリングタイ", ""),
    ("13:55", "b", "TOKYO MX NE", ""),
    ("14:00", "g", "第108回全国高等学校野球選手権大会", ""),
    ("14:30", "b", "MXショッピング", ""),
    ("15:00", "b", HEAL, "ブリキの時間箱②"),
    ("15:30", "b", "ヒーリングタイ", ""),
    ("15:38", "b", "ごりやくさん字字", ""),
    ("16:00", "b", "MXショッピング", ""),
    ("16:30", "b", "ヒーリングタイ", ""),
    ("16:38", "b", "日本ふるさと百景字", ""),
    ("17:00", "b", "MXショッピング", ""),
    ("17:30", "b", "ヒーリングタイ", ""),
    ("17:38", "b", "ごりやくさん字字", "日生都比売神社"),
    ("18:00", "b", "MXショッピング", ""),
    ("18:30", "b", "ヒーリングタイ", ""),
    ("18:38", "b", "ごりやくさん字字", "八坂神社"),
    ("19:00", "b", HEAL, "浪漫点描 散歩の風景 初夏2"),
    ("20:00", "b", "MXショッピング", ""),
    ("20:30", "b", "ヒーリングタイ", ""),
    ("20:38", "b", "ごりやくさん字", "石清水八幡宮"),
    ("21:00", "b", "MXショッピング", ""),
    ("21:30", "b", "MXショッピング", ""),
    ("22:00", "b", HEAL, "散歩の風景 横浜・湘南・箱根"),
    ("23:00", "b", HEAL, "東京BAYクルーズ"),
    ("24:00", "b", HEAL, "夜の首都高"),
    ("25:00", "b", HEAL, "散歩の風景 墨田・台東・日本"),
    ("25:30", "b", "クルマでいこう！★メーカー深掘り ～技術とヘリテージ 日", ""),
    ("26:05", "b", HEAL, "玉川上水編"),
    ("26:35", "b", HEAL, ""),
    ("27:05", None, "", ""),
    ("28:00", "b", HEAL, "ブリキの時間箱②"),
]

TVKSHOP = "暮らしに役立つ、選りすぐりの商品をご紹介します。▽健康食品"
TVK = [
    ("4:50", "p", "朝の周波数カード", "アルバム「ジャスト・プッシュ・プレイ」エアロスミス"),
    ("5:20", "r", "ドロンコロン", ""),
    ("5:25", "b", "tvkお買物情報", TVKSHOP),
    ("5:54", "b", "weather report", ""),
    ("5:55", "b", "tvkお買物情報", TVKSHOP),
    ("6:24", "b", "weather report", ""),
    ("6:25", "b", "tvkお買物情報", TVKSHOP),
    ("6:55", "b", "weather report", ""),
    ("7:00", "b", "ルアルアチャンネル▽広瀬達樹さんと岩手宮古湾でボートロッド", ""),
    ("7:30", "b", "田村亮の釣りならまかせろ！", "強烈な引きに大興奮"),
    ("8:00", "b", "tvkお買物情報", TVKSHOP),
    ("8:30", "b", "ライフ・ライン▽人生最高の出会い～私が見つけた生きる意味", ""),
    ("9:00", "b", "かながわ旬菜ナビ", ""),
    ("9:30", "b", "tvkお買物情報", TVKSHOP),
    ("10:00", "g", "竹村真琴と望月", "理恵の"),
    ("10:15", "b", "tvkお買物情報", TVKSHOP),
    ("10:30", "b", "tvkお買物情報", TVKSHOP),
    ("11:00", "b", "岡崎体育の京の観察日記▽下鴨界隈後編", "シンガーソングラ"),
    ("11:30", "b", "tvkお買物情報", TVKSHOP),
    ("11:59", "b", "weather report", ""),
    ("12:00", "p", "音楽缶", "最新のミュージックビデオをノーカット"),
    ("12:25", "p", "PPV", ""),
    ("12:30", "b", "ごりやくさん▽吉備津神社字字", "全国各地の「御利"),
    ("12:55", "b", "tvkお買物情報", TVKSHOP),
    ("13:25", "b", "weather report", ""),
    ("13:30", "b", "眼界テレビRemi", ""),
    ("13:45", "g", "第108回全国高等学校野球選手権神奈川大会「決勝・閉会式」", "（横浜スタジアム）▽延長の場合サブチャンネル（032）で放送"),
    ("17:55", "b", "tvkニュース", ""),
    ("18:00", "b", "カナフルTV字字", ""),
    ("18:30", "b", "ハートビート・ボイス 津久井やまゆり園事件から10年、心の声を聴く", ""),
    ("19:00", "b", "tvkお買物情報", TVKSHOP),
    ("19:30", "b", "ごりやくさん▽橿原神宮字字", "全国各地の「御利益（ごりやく）が"),
    ("19:55", "b", "weather report", ""),
    ("20:00", "b", "tvkお買物情報", TVKSHOP),
    ("20:30", "p", "音楽缶", "最新のミュージックビデオをノーカット"),
    ("20:55", "b", "tvkニュース", ""),
    ("21:00", "r", "ミスター味っ子 第70話「島巡り味対決！激闘", ""),
    ("21:30", "r", "ルパン三世 PART2 第23話「第4", ""),
    ("22:00", "b", "クルマでいこう！▽メーカー深掘り ～理想を現実に スバル～", "スタジオトーク全"),
    ("22:30", "g", "原田伸郎のめざせパーゴルフIII ▽ドッキーチーム", ""),
    ("23:00", "g", "ゴルフ★パラダイス-THE GAME CHANGER", ""),
    ("23:30", "p", "洋楽天国＋▽マイケル・ジャクソン特集", "映画「マイケル」も話題のマイケル・ジャクソン特"),
    ("24:00", "b", "カベポスター・天才ピアニスト・フースーヤのワチャラチャ忍忍", "カベポスター＆天才ピアニスト＆フースーヤの3組が"),
    ("24:30", "b", "tvkお買物情報", TVKSHOP),
    ("25:00", "b", "CHALLENGERS", "挑戦する企業やプロ・専門家のリアルな声を届けるトーク番組"),
    ("25:30", "p", "音楽缶", "最新のミュージックビデオをノーカット"),
    ("25:55", "b", "weather report", ""),
    ("26:00", "b", "tvkお買物情報", TVKSHOP),
    ("26:30", "r", "あおほし", ""),
    ("26:33", None, "", ""),
    ("28:00", "p", "朝の周波数カード", "アルバム「ジャスト・プッシュ・プレイ」エアロスミス"),
    ("28:30", "r", "ドロンコロン", ""),
    ("28:35", "b", "日本ふるさと百景▽和歌山編2字", ""),
]

CTC = [
    ("4:55", "b", "生活情報", "【内容】Fatbyebye"),
    ("5:25", "b", "ちば美彩 extra", ""),
    ("5:30", "b", "生活情報", ""),
    ("6:00", "b", "田村亮の釣りならまかせろ！", "キラキラアピールで大物ゲット！？"),
    ("6:30", "b", "ショップジャパン", "【内容】トゥルースリーパー プレミアリッチpr.3／"),
    ("7:00", "p", "竹島宏の歌MAX", "歌謡曲・演歌に特化せず、ジャンルを超えた音楽を竹"),
    ("7:30", "p", "知里と修右のミュージックエッセンス字", ""),
    ("8:00", "b", "生活情報", ""),
    ("8:30", "b", "ちば文化資産 #", ""),
    ("8:45", "p", "ほっと！ヒット！歌謡曲", "2026年7月"),
    ("9:00", "b", "ショップジャパン", ""),
    ("9:30", "g", "夏の高校野球千葉大会", ""),
    ("14:00", "b", "生活情報", "【内容】ひざサポ"),
    ("14:30", "p", "ONGAX", "2026年7月"),
    ("15:00", "b", "ちば歴史散歩 千", ""),
    ("15:05", "b", "日本ふるさと百景▽群馬編3字", ""),
    ("15:30", "b", "ショップジャパン", "【内容】ユカイネ"),
    ("16:00", "b", "ジャパネットたかたテレビショッピング", ""),
    ("16:55", "b", "天気予報", ""),
    ("17:00", "b", "お昼の快傑！TV #395", "千葉、東京のまちと人との情報番組"),
    ("17:30", "b", "生活情報", "【内容】真滋腎通耳湯"),
    ("18:00", "b", "newsチバ", ""),
    ("18:05", "b", "浅草お茶の間寄席", ""),
    ("18:35", "b", "ごりやくさん▽吉備津神社字字", "全国各地の「御利"),
    ("19:00", "g", "Rising Reysol！#280", ""),
    ("19:30", "g", "WIN BY ALL！", ""),
    ("19:45", "b", "チュパチュパワンダーランド つくってみチャオ！「ヘアアレ", ""),
    ("20:00", "b", "成田祇園祭", "夏の訪れを告げる"),
    ("20:30", "b", "ちば見聞録「成田空港と牧士の里！（成田・富里）", ""),
    ("20:55", "b", "生活情報", "【内容】ひざサポ"),
    ("21:25", "b", "天気予報", ""),
    ("21:30", "g", "牧野裕のEnjoy Golf #899", ""),
    ("22:00", "g", "高校野球ダイジェスト", "今年のキャッチコピーは「チバナツには夢がある」当日行われた全試合の結果と、手に汗握る試合の模様をダイジェストでお"),
    ("23:00", "b", "生活情報", ""),
    ("23:30", "b", "週刊バイクTV字▽JAIA輸入車試乗会に初参加！②", "先週に引き続きJAIA輸入車試乗会"),
    ("24:00", "b", "生活情報", "【内容】千葉之素"),
    ("24:30", "b", "猫のもふもふ日記", ""),
    ("25:00", "p", "ONGAX", "2026年7月"),
    ("25:30", "b", "戦国鍋TV字", "歴史がなんとなく、楽しく学べちゃう、歴史バラエ"),
    ("26:00", "b", "生活情報", "【内容】ひざサポ"),
    ("26:30", "b", "天気予報", ""),
    ("26:34", None, "", ""),
    ("26:35", "b", "試験電波", ""),
]

TVS = [
    ("5:00", "p", "ミュージックパーク「歌仲間全員集合」Ⓢ", ""),
    ("5:30", "b", "お買い物生活情報Ⓢ", ""),
    ("6:00", "g", "塩谷育代のベストショットⓈ字", "【EP357】ベルビーチゴルフクラブ"),
    ("6:30", "b", "TVショッピング・エムズサイエンステレビショッピングⓈ", ""),
    ("7:00", "g", "ゴルフ★パラダイス THE GAME CHANGER ⓈH", ""),
    ("7:30", "g", "高校野球ダイジェスト2026Ⓢ字", ""),
    ("8:00", "b", "テレ玉認定！たまぐるめ 15分版", ""),
    ("8:15", "p", "カラ1Ⓢ", ""),
    ("8:20", "p", "彩の国百科字Ⓢ", "大地の造福 個由"),
    ("8:30", "b", "TVショッピング・新甲賀漢方テレビショッピングⓈ", ""),
    ("9:00", "p", "小桜舞子と三里", ""),
    ("9:15", "p", "童謡コーラス♪", ""),
    ("9:30", "b", "テレ玉認定！た", ""),
    ("9:45", "g", "第108回全国高校野球選手権埼玉大会Ⓢ", "「めざせ！真夏の一番星」甲子園の切符をかけていよいよ頂上決戦！！勝つのはどっちだ！？埼玉球児たちの夏をテレ玉で見届けましょう！"),
    ("16:00", "b", "佐世保発！生放送テレビショッピングⓈ", "佐世保発ショッピング 期間限定商品がお得"),
    ("16:55", "r", "テレ玉くんのう", ""),
    ("17:00", "p", "彩の国百科Ⓢ", ""),
    ("17:05", "b", "リリックのうた", ""),
    ("17:15", "b", "ショッピング・野草酵素テレビショッピングⓈ", ""),
    ("17:45", "b", "ウィークエンド", ""),
    ("17:55", "b", "テレ玉認定！た", ""),
    ("18:00", "b", "買物情報・富山常備薬 テレビショッピング字", ""),
    ("18:30", "r", "仮面ライダー#74", "第74話「死の吸血魔 がんばれ！！ライダー少年隊！"),
    ("19:00", "b", "埼玉ビジネスウオッチⓈ字", ""),
    ("19:30", "b", "大学発掘バラエティ キャンパスライフTV～尚美学園大学編～#1Ⓢ", ""),
    ("20:00", "b", "祭りの形～三重に受け継がれる華～Ⓢ", ""),
    ("20:55", "r", "テレ玉くんのう", ""),
    ("21:00", "g", "高校野球ダイジェスト2026Ⓢ", ""),
    ("21:30", "b", "サンデーナイトショッピング・", ""),
    ("22:00", "g", "鈴木祐 ゴルフはじめましたⓈ", "高坂カントリークラブで、福となみさがペアを組んで"),
    ("22:30", "g", "BACHプラザⓈ", "「ボートレース戸田」「川口オート"),
    ("23:00", "b", "シブサワ解体深書字Ⓢ字", ""),
    ("23:30", "g", "牧野裕のEnjoyGolfⓈH", "左足下りのアプローチの克服 【ゲストのスイング解説】「ワンポイン"),
    ("24:00", "b", "TVショッピング・新大和漢方テレビショッピングⓈ", ""),
    ("24:30", "p", "高尾奏音と早川", ""),
    ("24:45", "b", "四季 彩の国紀行 ～推薦曲篇～Ⓢ", ""),
    ("25:00", "b", "TVショッピング・エムズサイエンステレビショッピングⓈ", ""),
    ("25:30", "b", "カミナリのチャリ旅！シーズン10Ⓢ", "うつくし未浜街道"),
    ("26:00", "b", "SHOP CHANNEL・ショップチャンネルⓈ", "ショップチャンネルお買い物エンターテインメント"),
    ("27:00", "b", "テレ玉認定！た", ""),
    ("27:05", "p", "V－ClipsⓈ字", ""),
    ("27:15", "b", "お天気マップ", ""),
    ("27:19", None, "", ""),
    ("28:00", "b", "お天気マップⓈ", ""),
    ("28:05", "p", "彩の国百科字Ⓢ", ""),
    ("28:15", "b", "TV SHOPPING・健康テレビショッピングⓈ", ""),
    ("28:45", "b", "四季 彩の国紀行 ～推薦曲篇～Ⓢ", ""),
]

PROGRAMS = [NHK, ETV, NTV, EX, TBS, TX, CX, MX1, MX2, TVK, CTC, TVS]

# 見た目
PAGE_BG = "#fafafb"
GENRE_COLORS = {"b": "#9db0ec", "g": "#9fd796", "r": "#eeaba0", "y": "#e8cb6c", "p": "#dcaae2", "c": "#98d3ea"}
HEADER_COLORS = ["#1a5199", "#246a30", "#8f7418", "#954f14", "#85231a", "#4d1678",
                 "#161658", "#163f6d", "#1a4d24", "#e6c13e", "#ea8434", "#d9533a"]
HOUR_COLORS = ["#2c7f8c", "#2c8a80", "#2c9070", "#3ca83c", "#45b038", "#50b832", "#62c63a", "#74c83a",
               "#a4d63a", "#d8d03c", "#f2bc3e", "#f4a23e", "#f2704a", "#ee4c48", "#dc3a5a", "#c42a70",
               "#a82a90", "#8a28a4", "#7424b0", "#5a22aa", "#3e22a0", "#2a2a9c", "#223ca0", "#1e4aa4",
               "#2a7480", "#2e8478"]
TITLE_COLOR = "#1b2468"
DESC_COLOR = "#9b9b9b"
X0, COL_W = 26, 139

knot_t, knot_y = [], []
for hh in sorted(ROW_TOPS):
    for mm in sorted(ROW_TOPS[hh]):
        knot_t.append(hh * 60 + mm)
        knot_y.append(ROW_TOPS[hh][mm])


def time_y(stamp):
    hh, mm = stamp.split(":")
    return float(np.interp(int(hh) * 60 + int(mm), knot_t, knot_y))


def char_w(ch, em):
    # 全角1em、半角は大文字だけ少し広い
    if ch == " ":
        return em * 0.3
    if ord(ch) >= 256:
        return em
    if ch.isupper():
        return em * 0.62
    return em * 0.5


def wrap(text, em, width):
    lines, cur, w = [], "", 0
    for ch in text:
        cw = char_w(ch, em)
        if w + cw > width and cur:
            lines.append(cur)
            cur, w = "", 0
        cur += ch
        w += cw
    if cur:
        lines.append(cur)
    return lines


def px(size):
    return size * 0.72


fig = plt.figure(figsize=(W / 100, H / 100), dpi=100, facecolor=PAGE_BG)
ax = fig.add_axes([0, 0, 1, 1])
ax.set_facecolor(PAGE_BG)

# 時間の帯
y_end = time_y("29:00")
hour_tops = [time_y(f"{h}:00") for h in range(3, 29)]
col_y = np.arange(196, int(y_end))
rgb = np.array([to_rgb(c) for c in HOUR_COLORS])
grad = np.stack([np.interp(col_y, hour_tops, rgb[:, i]) for i in range(3)], axis=1)[:, None, :]
ax.imshow(grad, extent=(0, X0, y_end, 196), aspect="auto", zorder=1, interpolation="nearest")
for lab, top in zip(HOUR_LABELS, hour_tops):
    ax.text(13, top + 14, str(lab), color="white", fontsize=px(18), ha="center", va="center", zorder=4)

# 番組セル
for c, programs in enumerate(PROGRAMS):
    x = X0 + c * COL_W
    for i, (stamp, genre, title, desc) in enumerate(programs):
        if genre is None:
            continue
        top = time_y(stamp)
        bottom = time_y(programs[i + 1][0]) if i + 1 < len(programs) else y_end
        cell = Rectangle((x, top - 1), COL_W, bottom - top, facecolor="white", edgecolor="none", zorder=2)
        ax.add_patch(cell)
        ax.plot([x, x + COL_W], [top - 1, top - 1], color="#eef0f6", lw=1, zorder=2.5, solid_capstyle="butt")
        ax.plot([x, x], [top - 1, bottom - 1], color="#e3e7f3", lw=1, zorder=2.5, solid_capstyle="butt")
        tile = Rectangle((x + 1, top), 21, 16, facecolor=GENRE_COLORS[genre], edgecolor="none", zorder=3)
        ax.add_patch(tile)
        tile.set_clip_path(cell)
        t = ax.text(x + 11.5, top + 8, stamp.split(":")[1], color="white", fontsize=px(13), ha="center", va="center", zorder=4)
        t.set_clip_path(cell)
        yy = top + 11
        for line in wrap(title, 13.5, 97):
            if yy - 8 > bottom:
                break
            t = ax.text(x + 31, yy, line, color=TITLE_COLOR, fontsize=px(13.5), fontweight="bold", ha="left", va="center", zorder=4)
            t.set_clip_path(cell)
            yy += 16
        yy += 4
        if desc:
            for line in wrap(desc, 12, 97):
                if yy - 8 > bottom:
                    break
                t = ax.text(x + 31, yy, line, color=DESC_COLOR, fontsize=px(12), ha="left", va="center", zorder=4)
                t.set_clip_path(cell)
                yy += 15

ax.plot([X0 + 12 * COL_W] * 2, [196, y_end], color="#e3e7f3", lw=1, zorder=2.5)

# 下の余白
ax.add_patch(Rectangle((X0, y_end), W, 108, facecolor="#f9f9fb", edgecolor="none", zorder=1))
ax.add_patch(Rectangle((0, y_end), X0, 90, facecolor="white", edgecolor="none", zorder=1))
ax.add_patch(Rectangle((X0, y_end + 108), W, H, facecolor="#fdfdfe", edgecolor="none", zorder=1))

# ページ上部
ax.add_patch(Rectangle((1285, 0), 31, 50, facecolor="white", edgecolor="none", zorder=1))
ax.text(20, 27, "G", color="#c79a1a", fontsize=px(30), fontweight="bold", ha="left", va="center", zorder=4)
ax.text(40, 30, "BUNE", color="#c79a1a", fontsize=px(11), fontweight="bold", ha="left", va="center", zorder=4)
ax.text(83, 26, "地上波番組表", color="#222222", fontsize=px(14.5), ha="left", va="center", zorder=4)
ax.add_patch(FancyBboxPatch((188, 13), 308, 25, boxstyle="round,pad=0,rounding_size=3", facecolor="#fafafa", edgecolor="#dddddd", lw=1, zorder=3))
ax.add_patch(Circle((202, 23), 6, facecolor="none", edgecolor="#111111", lw=2, zorder=4))
ax.plot([206, 212], [28, 35], color="#111111", lw=2.5, zorder=4)
ax.text(222, 26, "番組名・タレント名を入力してください", color="#555555", fontsize=px(12), ha="left", va="center", zorder=4)

NAV_ITEMS = ["ホーム", "ランキング", "タレント", "ジャンル", "番組表", "2025年人気ドラマ", "FIFA2026"]
NAV_BARS = [21, 147, 273, 400, 525, 652, 802]
NAV_MENUS = [233, 485, 611]
for name, bx in zip(NAV_ITEMS, NAV_BARS):
    ax.plot([bx, bx], [60, 74], color="#2a4f9a", lw=1.5, zorder=4)
    ax.text(bx + 12, 67, name, color="#333333", fontsize=px(12.5), ha="left", va="center", zorder=4)
for tx in NAV_MENUS:
    ax.add_patch(Polygon([[tx - 5, 64], [tx + 5, 64], [tx, 71]], facecolor="#999999", edgecolor="none", zorder=4))
ax.plot([0, 1285], [83, 83], color="#eeeeee", lw=1, zorder=2)
ax.plot([0, 1285], [116, 116], color="#eeeeee", lw=1, zorder=2)
for label, tx, vx in zip(["地上波番組表", "東京", "7月26日日曜日"], [24, 146, 216], [112, 187, 310]):
    ax.text(tx, 100, label, color="#111111", fontsize=px(13.5), ha="left", va="center", zorder=4)
    ax.plot([vx - 4, vx, vx + 4], [96, 102, 96], color="#111111", lw=1.6, zorder=4)

# 暗幕
ax.add_patch(Rectangle((0, 0), 1285, 900, facecolor="black", edgecolor="none", alpha=0.66, zorder=10))

# 幕の上に残るボタンとチャンネル見出し
ax.add_patch(FancyBboxPatch((442, 124), 400, 31, boxstyle="round,pad=0,rounding_size=5", facecolor="#16419a", edgecolor="none", zorder=11))
ax.text(642, 139.5, "前日の番組表を見る", color="#5f83c4", fontsize=px(13), ha="center", va="center", zorder=12)
ax.add_patch(Rectangle((0, 162), X0, 34, facecolor="#0f193c", edgecolor="none", zorder=11))
for c, (name, color) in enumerate(zip(CHANNELS, HEADER_COLORS)):
    x = X0 + c * COL_W
    dark = c < 9
    ax.add_patch(Rectangle((x, 162), COL_W, 34, facecolor=color, edgecolor="none", zorder=11 if dark else 5))
    base = np.array(to_rgb(color))
    txt = base * 0.62 + 0.38 if dark else (1, 1, 1)
    ax.text(x + 9, 179, name, color=txt, fontsize=px(15), ha="left", va="center", zorder=12 if dark else 6)

ax.set_xlim(0, W)
ax.set_ylim(H, 0)
ax.axis("off")
fig.savefig("out.png", dpi=100, facecolor=PAGE_BG)
